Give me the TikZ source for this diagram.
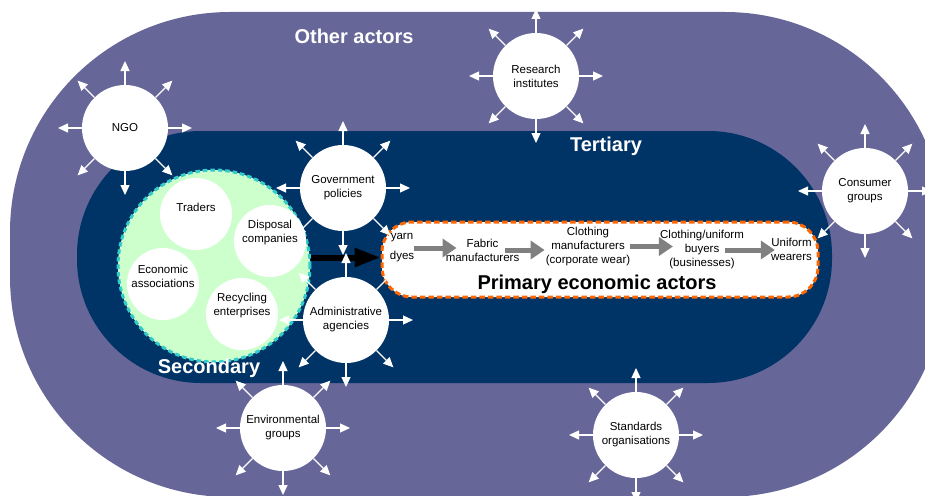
\documentclass[tikz,border=0pt]{standalone}
\usepackage{fontspec}
\setmainfont{Liberation Sans}
\usetikzlibrary{arrows.meta,calc,positioning}

\definecolor{otherviolet}{HTML}{666699}
\definecolor{tertblue}{HTML}{003366}
\definecolor{secgreen}{HTML}{CCFFCC}
\definecolor{secteal}{HTML}{33CCCC}
\definecolor{primorange}{HTML}{FF6600}
\definecolor{flowgray}{HTML}{808080}

\newcommand{\smalltxt}{\fontsize{11.5}{14}\selectfont}
\newcommand{\bigtxt}{\fontsize{20}{24}\selectfont\bfseries}

\tikzset{
  actor/.style={circle,fill=white,minimum size=86pt,inner sep=0pt,align=center,font=\smalltxt},
  member/.style={circle,fill=white,minimum size=72pt,inner sep=0pt},
  txt/.style={inner sep=0pt,align=center,font=\smalltxt},
  spoke/.style={white,line width=1.3pt,-{Triangle[width=9pt,length=10pt]}},
  flow/.style={flowgray,line width=5pt,-{Triangle[width=18pt,length=14pt]}},
  bigtitle/.style={text=white,font=\bigtxt}
}

\begin{document}
\begin{tikzpicture}[x=1pt,y=-1pt]
\useasboundingbox (0,0) rectangle (925,495);
\clip (0,0) rectangle (925,495);

% rings
\fill[otherviolet,rounded corners=220pt] (10,12) rectangle (945,497);
\fill[tertblue,rounded corners=124pt] (77,131) rectangle (832,383);

% secondary actors
\node[circle,minimum size=192pt,fill=secgreen,draw=secteal,line width=3pt,
  dash pattern=on 4.5pt off 3pt] (sec) at (214,266) {};
\node[member,label={[txt,yshift=7pt]center:Traders}] (traders) at (196,214) {};
\node[member,label={[txt,yshift=8pt]center:Disposal\\companies}] (disposal) at (270,241) {};
\node[member,label={[txt,yshift=8pt]center:Economic\\associations}] (economic) at (163,284) {};
\node[member,label={[txt,yshift=8pt]center:Recycling\\enterprises}] (recycling) at (242,314) {};

% primary economic actors
\node[draw=primorange,fill=white,rounded corners=30pt,minimum width=436pt,minimum height=75pt,
  line width=3pt,dash pattern=on 5.5pt off 3pt] (prim) at (600,259.5) {};
\node[txt] (yarn) at (402,248) {yarn\\[6pt]dyes};
\node[txt] (fabric) at (482.5,250) {Fabric\\manufacturers};
\node[txt] (clothing) at (588,246.5) {Clothing\\manufacturers\\(corporate wear)};
\node[txt] (buyers) at (702,250) {Clothing/uniform\\buyers\\(businesses)};
\node[txt] (wearers) at (791.5,249) {Uniform\\wearers};
\node[font=\bigtxt] (primlbl) at (597,284) {Primary economic actors};

\draw[flow,shorten >=-11pt] (yarn.east) -- (yarn.east -| fabric.west);
\draw[flow,shorten <=-14pt,shorten >=1pt] (fabric.east) -- (fabric.east -| clothing.west);
\draw[flow,shorten >=-13pt] (clothing.east) -- (clothing.east -| buyers.west);
\draw[flow,shorten <=-19pt,shorten >=-4pt] (buyers.east) -- (buyers.east -| wearers.west);

\draw[line width=6pt,-{Triangle[width=18pt,length=26pt]}] (sec.5) -- (sec.5 -| prim.west);

% other and tertiary actors
\node[actor] (ngo) at (125,128) {NGO};
\node[actor] (research) at (536,76) {Research\\institutes};
\node[actor] (consumer) at (865,191) {Consumer\\groups};
\node[actor] (govpol) at (343,188) {Government\\policies};
\node[actor] (admin) at (346,320) {Administrative\\agencies};
\node[actor] (envgroups) at (283,428) {Environmental\\groups};
\node[actor] (standards) at (636,435) {Standards\\organisations};

\foreach \n in {ngo,research,consumer,govpol,admin,envgroups,standards}{
  \foreach \a in {0,45,...,315}{
    \path ($(\n)+(\a:67pt)$) coordinate (\n-\a);
    \draw[spoke] (\n.\a) -- (\n-\a);
  }
}

\node[bigtitle] (otherlbl) at (354,36) {Other actors};
\node[bigtitle] (tertlbl) at (606,146) {Tertiary};
\node[bigtitle] (seclbl) at (209,368) {Secondary};
\end{tikzpicture}
\end{document}
